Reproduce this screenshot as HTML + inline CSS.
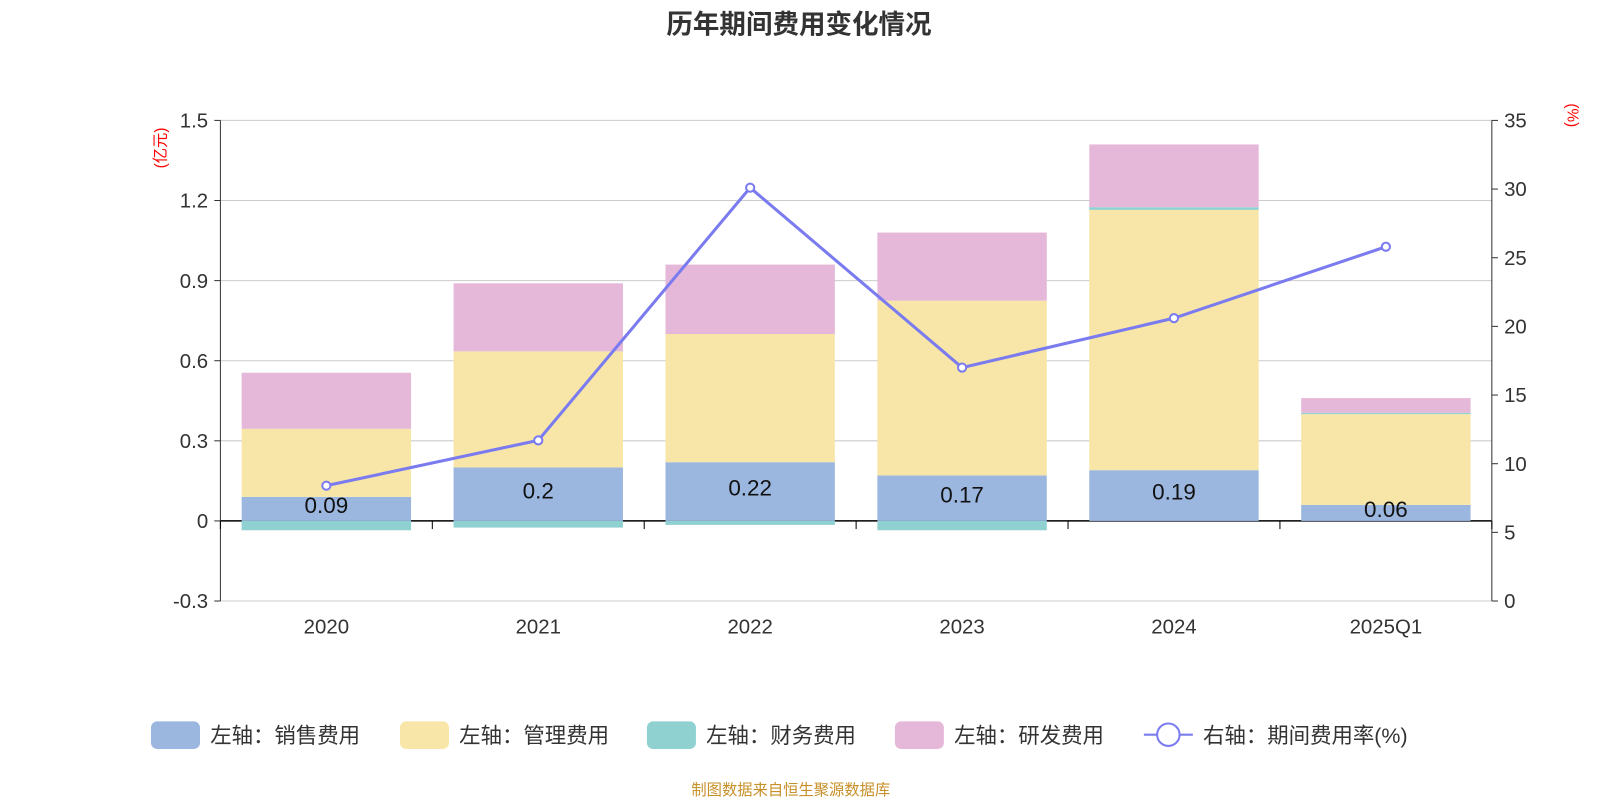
<!DOCTYPE html>
<html><head><meta charset="utf-8"><style>
body{margin:0;background:#fff;font-family:"Liberation Sans","Noto Sans CJK SC",sans-serif;}
svg text{font-family:"Liberation Sans","Noto Sans CJK SC",sans-serif;}
</style></head><body>
<svg id="c" width="1600" height="800" viewBox="0 0 1568 784" xmlns="http://www.w3.org/2000/svg">
<text x="783" y="33" text-anchor="middle" font-size="26" font-weight="bold" fill="#333">历年期间费用变化情况</text>
<text transform="translate(162,145) rotate(-90)" text-anchor="middle" font-size="15" fill="red">(亿元)</text>
<text transform="translate(1536,113) rotate(90)" text-anchor="middle" font-size="15" fill="red">(%)</text>
<g id="grid"></g><g id="bars"></g><g id="axes"></g><g id="line"></g>
<g id="legend" font-size="20" fill="#333"></g>
<text x="775" y="779" text-anchor="middle" font-size="15" fill="#c8902a">制图数据来自恒生聚源数据库</text>
</svg>
<script>
const categories=["2020","2021","2022","2023","2024","2025Q1"];
const sales=[0.09,0.2,0.22,0.17,0.19,0.06];
const mgmt=[0.255,0.435,0.48,0.655,0.975,0.34];
const finance=[-0.035,-0.025,-0.015,-0.035,0.01,0.005];
const rnd=[0.21,0.255,0.26,0.255,0.235,0.055];
const rate=[8.4,11.7,30.1,17.0,20.6,25.8];
const leftTicks=[-0.3,0,0.3,0.6,0.9,1.2,1.5];
const rightTicks=[0,5,10,15,20,25,30,35];
const NS="http://www.w3.org/2000/svg";
const L=216,R=1462,T=118,B=589;
const yL=v=>B-(v+0.3)/1.8*(B-T);
const yR=v=>B-v/35*(B-T);
const bw=(R-L)/categories.length;
const xC=i=>L+bw*(i+0.5);
function mk(tag,attrs,parent,text){const e=document.createElementNS(NS,tag);for(const k in attrs)e.setAttribute(k,attrs[k]);if(text!==undefined)e.textContent=text;document.getElementById(parent).appendChild(e);return e;}
leftTicks.forEach(t=>{const y=yL(t);
const g=mk('line',{x1:L,x2:R,y1:y,y2:y,stroke:t===0?'#000':'#ccc','stroke-width':t===0?1.5:1},'grid');


const tx=mk('text',{x:L-12,y:y+7,'text-anchor':'end','font-size':20,fill:'#333'},'axes',String(t));


mk('line',{x1:L-6,x2:L,y1:y,y2:y,stroke:'#333'},'axes');});
rightTicks.forEach(t=>{const y=yR(t);
const tx=mk('text',{x:R+12,y:y+7,'font-size':20,fill:'#333'},'axes',String(t));


mk('line',{x1:R,x2:R+6,y1:y,y2:y,stroke:'#333'},'axes');});
mk('line',{x1:L,x2:L,y1:T,y2:B,stroke:'#333'},'axes');
mk('line',{x1:R,x2:R,y1:T,y2:B,stroke:'#333'},'axes');
for(let i=0;i<=categories.length;i++){mk('line',{x1:L+bw*i,x2:L+bw*i,y1:yL(0),y2:yL(0)+8,stroke:'#000'},'axes');}
const cols=['#9bb7e0','#f7e6a7','#8fd1d1','#e5b8d9'];
categories.forEach((c,i)=>{
const tx=mk('text',{x:xC(i),y:B+32,'text-anchor':'middle','font-size':20,fill:'#333'},'axes',c);


let pos=0,neg=0;const w=166,x=xC(i)-w/2;
[[sales,'sales'],[mgmt,'mgmt'],[finance,'finance'],[rnd,'rnd']].forEach(([arr,n],k)=>{
const v=arr[i];let y0,y1;
if(v>=0){y0=pos;y1=pos+v;pos=y1;}else{y0=neg+v;y1=neg;neg=y0;}
const r=mk('rect',{x:x,y:yL(y1),width:w,height:Math.max(0,yL(y0)-yL(y1)),fill:cols[k]},'bars');

});
const lb=mk('text',{x:xC(i),y:(yL(0)+yL(sales[i]))/2+4,'text-anchor':'middle','font-size':22,fill:'#111'},'bars',String(sales[i]));

});
const pts=rate.map((v,i)=>xC(i)+','+yR(v)).join(' ');
const pl=mk('polyline',{points:pts,fill:'none',stroke:'#7b7bf0','stroke-width':3},'line');


rate.forEach((v,i)=>{const p=mk('circle',{cx:xC(i),cy:yR(v),r:4,fill:'#fff',stroke:'#7b7bf0','stroke-width':2},'line');

});
const leg=[['左轴：销售费用',148],['左轴：管理费用',392],['左轴：财务费用',634],['左轴：研发费用',877]];
leg.forEach(([t,x],k)=>{const r=mk('rect',{x:x,y:707,width:48,height:27,rx:6,fill:cols[k]},'legend');


const tx=mk('text',{x:x+58,y:728,'font-size':21,fill:'#333'},'legend',t);

});
mk('line',{x1:1121,x2:1169,y1:720,y2:720,stroke:'#7b7bf0','stroke-width':2},'legend');
mk('circle',{cx:1145,cy:720,r:11,fill:'#fff',stroke:'#7b7bf0','stroke-width':2},'legend');
const lt=mk('text',{x:1179,y:728,'font-size':21,fill:'#333'},'legend','右轴：期间费用率(%)');


</script>
</body></html>
